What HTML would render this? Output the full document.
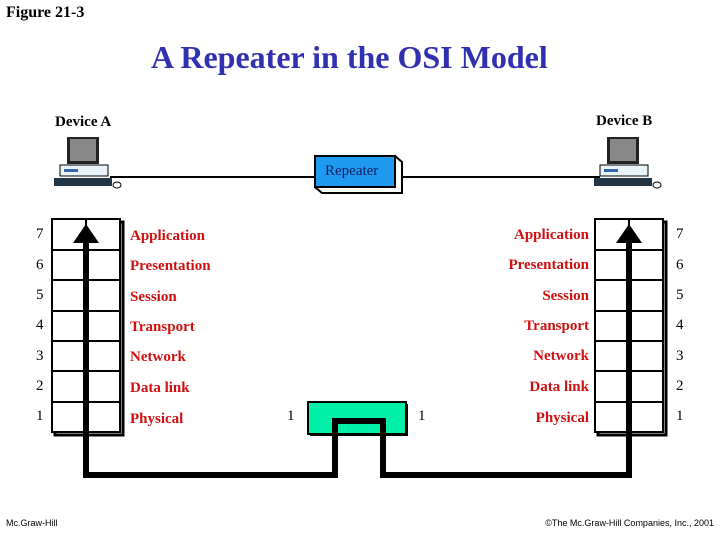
<!DOCTYPE html><html><head><style>
body{margin:0;width:720px;height:540px;background:#fff;position:relative;overflow:hidden;font-family:"Liberation Serif",serif}
.t{position:absolute;white-space:nowrap}
.r{color:#d01010;font-weight:bold;font-size:15px}
.n{font-size:15px}
</style></head><body>
<div class="t" style="left:6px;top:4px;font-weight:bold;font-size:16px">Figure 21-3</div>
<div class="t" style="left:151px;top:39px;font-size:32px;font-weight:bold;color:#3030b0">A Repeater in the OSI Model</div>
<div class="t" style="left:55px;top:114px;font-weight:bold;font-size:15px">Device A</div>
<div class="t" style="left:596px;top:113px;font-weight:bold;font-size:15px">Device B</div>
<svg width="720" height="540" style="position:absolute;left:0;top:0">
<line x1="110" y1="177" x2="600" y2="177" stroke="#000" stroke-width="2"/>
<g id="pc"><rect x="67" y="137" width="32" height="27" fill="#222"/><rect x="70" y="139" width="26" height="22" fill="#888"/>
<rect x="60" y="165" width="48" height="11" fill="#e8f4f8" stroke="#000"/><rect x="64" y="169" width="14" height="3" fill="#36a"/>
<rect x="54" y="178" width="58" height="8" fill="#234"/><ellipse cx="117" cy="185" rx="4" ry="3" fill="#fff" stroke="#000"/></g>
<use href="#pc" transform="translate(540,0)"/>
<polygon points="315,156 395,156 402,162 402,193 322,193 315,187" fill="#fff" stroke="#000" stroke-width="2"/>
<rect x="315" y="156" width="80" height="31" fill="#1e9af0" stroke="#000" stroke-width="2"/>
<g fill="none" stroke="#000" stroke-width="2">
<rect x="55" y="222" width="68" height="213" stroke-width="3"/>
<rect x="52" y="219" width="68" height="213" fill="#fff"/>
<line x1="86" y1="219" x2="86" y2="432"/>
<path d="M52 250H120M52 280H120M52 311H120M52 341H120M52 371H120M52 402H120"/>
<rect x="598" y="222" width="68" height="213" stroke-width="3"/>
<rect x="595" y="219" width="68" height="213" fill="#fff"/>
<line x1="629" y1="219" x2="629" y2="432"/>
<path d="M595 250H663M595 280H663M595 311H663M595 341H663M595 371H663M595 402H663"/>
</g>
<rect x="310" y="404" width="98" height="32" fill="#000"/>
<rect x="308" y="402" width="98" height="32" fill="#00f0a8" stroke="#000" stroke-width="2"/>
<g fill="none" stroke="#000" stroke-width="6">
<path d="M86 238V475H335V421H383V475H629V238"/>
</g>
<polygon points="73,243 86,224 99,243" fill="#000"/>
<polygon points="616,243 629,224 642,243" fill="#000"/>
</svg>
<div class="t" style="left:325px;top:163px;font-size:15px;color:#102060">Repeater</div>
<div class="t n" style="left:36px;top:226px">7</div><div class="t n" style="left:36px;top:257px">6</div><div class="t n" style="left:36px;top:287px">5</div><div class="t n" style="left:36px;top:317px">4</div><div class="t n" style="left:36px;top:348px">3</div><div class="t n" style="left:36px;top:378px">2</div><div class="t n" style="left:36px;top:408px">1</div>
<div class="t n" style="left:676px;top:226px">7</div><div class="t n" style="left:676px;top:257px">6</div><div class="t n" style="left:676px;top:287px">5</div><div class="t n" style="left:676px;top:317px">4</div><div class="t n" style="left:676px;top:348px">3</div><div class="t n" style="left:676px;top:378px">2</div><div class="t n" style="left:676px;top:408px">1</div>
<div class="t n" style="left:287px;top:408px">1</div><div class="t n" style="left:418px;top:408px">1</div>
<div class="t r" style="left:130px;top:228px">Application</div><div class="t r" style="left:130px;top:258px">Presentation</div><div class="t r" style="left:130px;top:289px">Session</div><div class="t r" style="left:130px;top:319px">Transport</div><div class="t r" style="left:130px;top:349px">Network</div><div class="t r" style="left:130px;top:380px">Data link</div><div class="t r" style="left:130px;top:411px">Physical</div>
<div class="t r" style="right:131px;top:227px">Application</div><div class="t r" style="right:131px;top:257px">Presentation</div><div class="t r" style="right:131px;top:288px">Session</div><div class="t r" style="right:131px;top:318px">Transport</div><div class="t r" style="right:131px;top:348px">Network</div><div class="t r" style="right:131px;top:379px">Data link</div><div class="t r" style="right:131px;top:410px">Physical</div>
<div class="t" style="left:6px;top:518px;font-size:9px;font-family:'Liberation Sans',sans-serif">Mc.Graw-Hill</div>
<div class="t" style="right:6px;top:518px;font-size:9px;font-family:'Liberation Sans',sans-serif">©The Mc.Graw-Hill Companies, Inc., 2001</div>
</body></html>
